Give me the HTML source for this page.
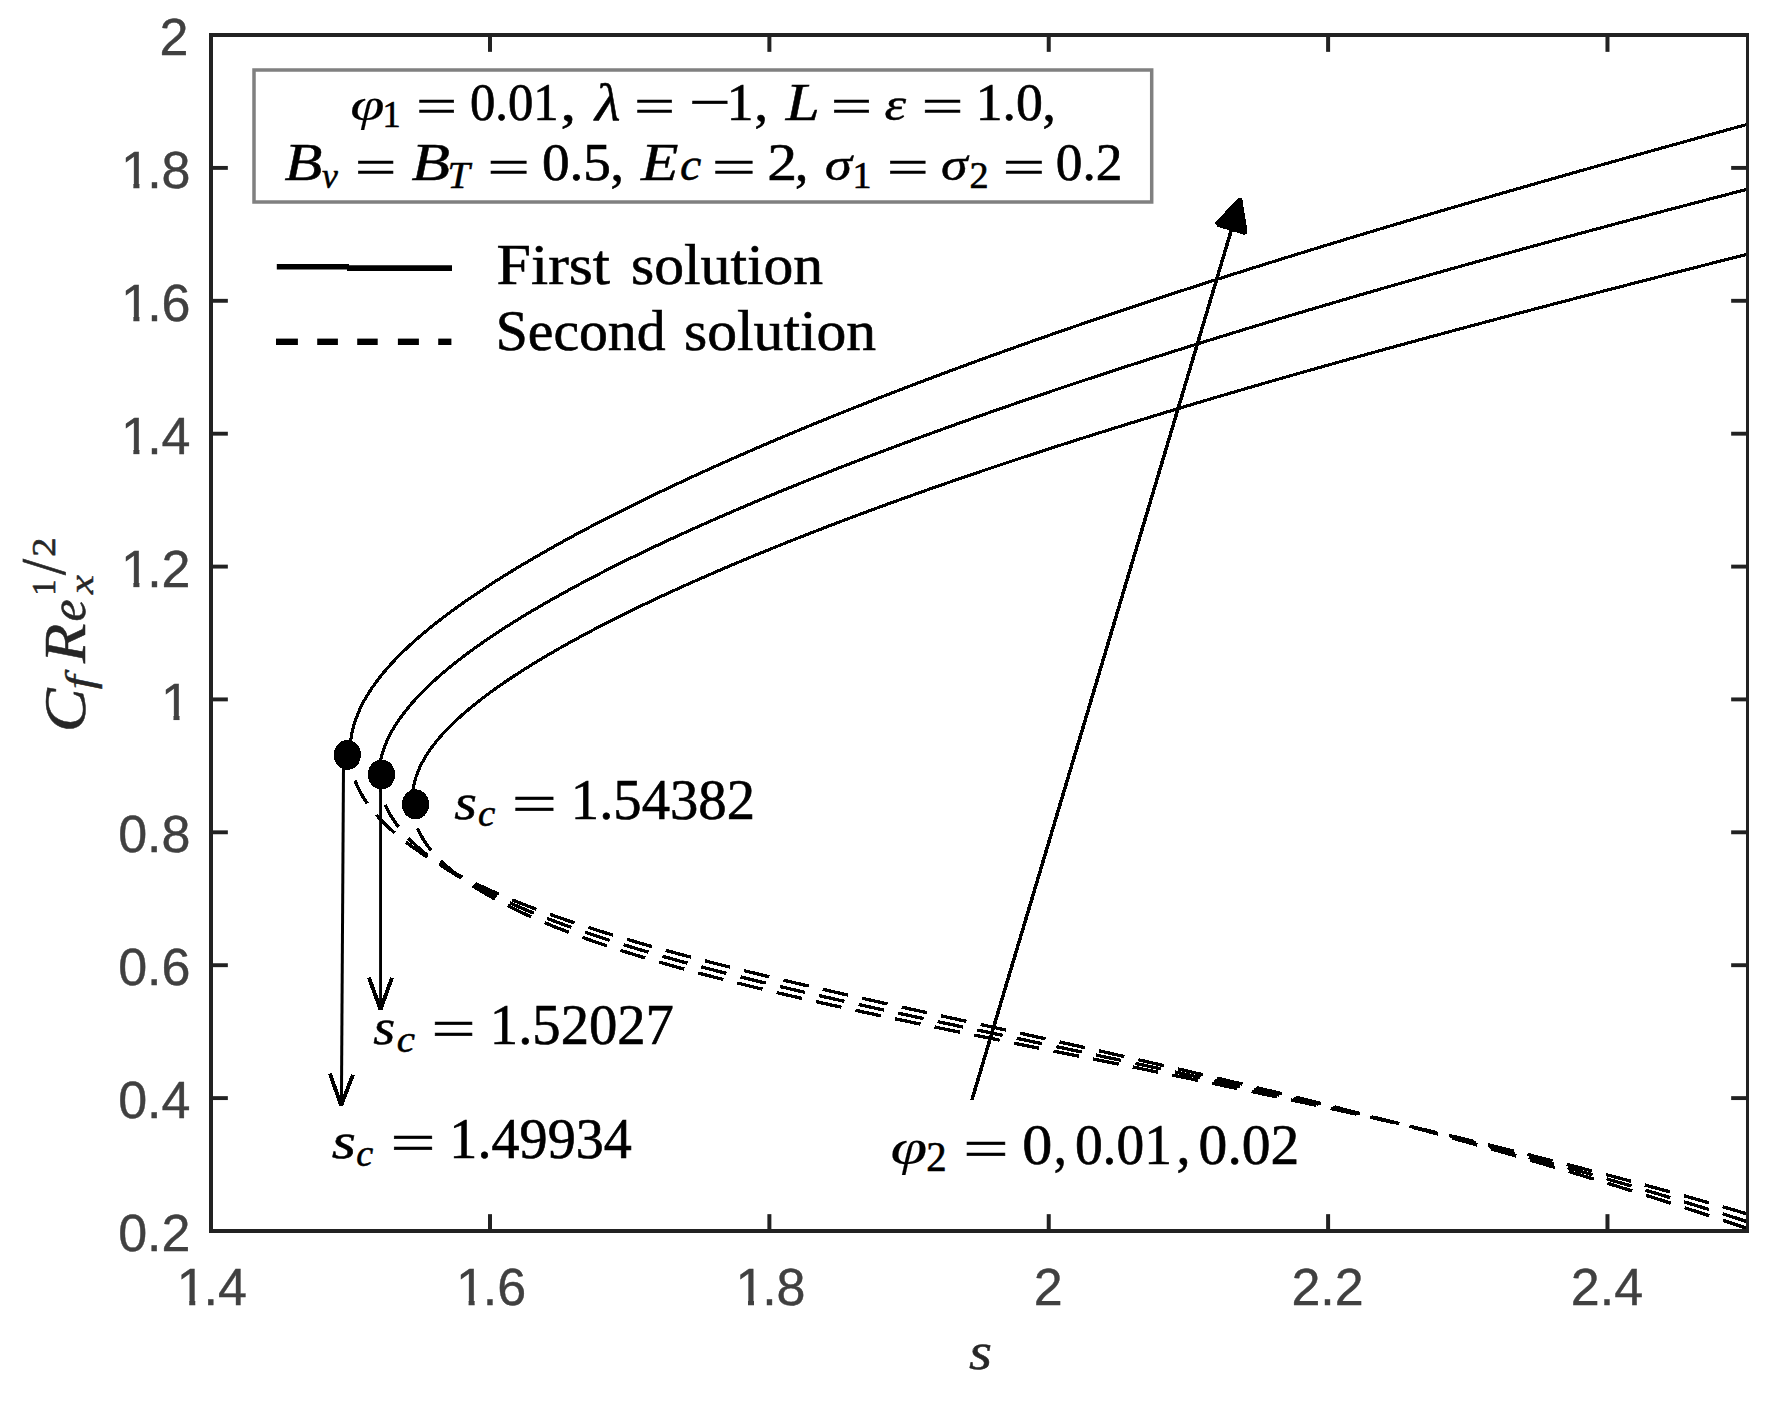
<!DOCTYPE html>
<html lang="en"><head><meta charset="utf-8"><title>Skin friction vs s</title>
<style>html,body{margin:0;padding:0;background:#fff}svg{display:block}text{white-space:pre}</style></head><body>
<svg width="1784" height="1402" viewBox="0 0 1784 1402">
<rect width="1784" height="1402" fill="#fff"/>
<g fill="none" stroke="#000" stroke-linejoin="round" shape-rendering="crispEdges">
<path d="M349.80,753.89 L349.82,751.82 L349.88,749.76 L349.99,747.70 L350.13,745.64 L350.32,743.59 L350.55,741.55 L350.82,739.51 L351.13,737.47 L351.49,735.43 L351.88,733.40 L352.32,731.38 L352.80,729.35 L353.32,727.33 L353.88,725.31 L354.49,723.30 L355.13,721.28 L355.82,719.27 L356.55,717.27 L357.32,715.26 L358.13,713.25 L358.99,711.25 L359.88,709.25 L360.82,707.25 L361.80,705.25 L362.82,703.25 L363.88,701.25 L364.98,699.25 L366.13,697.25 L367.32,695.25 L368.55,693.25 L369.82,691.25 L371.13,689.25 L372.48,687.24 L373.88,685.24 L375.31,683.23 L376.79,681.23 L378.31,679.22 L379.88,677.21 L381.48,675.19 L383.13,673.18 L384.81,671.16 L386.54,669.14 L388.31,667.11 L390.12,665.09 L391.98,663.06 L393.87,661.02 L395.81,658.99 L397.79,656.95 L399.81,654.90 L401.87,652.86 L403.98,650.81 L406.12,648.75 L408.31,646.69 L410.54,644.63 L412.81,642.56 L415.12,640.49 L417.47,638.42 L419.87,636.34 L422.30,634.25 L424.78,632.17 L427.30,630.07 L429.86,627.97 L432.47,625.87 L435.11,623.76 L437.80,621.65 L440.53,619.53 L443.30,617.41 L446.11,615.28 L448.96,613.15 L451.86,611.01 L454.80,608.86 L457.78,606.71 L460.80,604.56 L463.86,602.40 L466.96,600.23 L470.11,598.06 L473.29,595.89 L476.52,593.70 L479.79,591.52 L483.10,589.32 L486.46,587.12 L489.85,584.92 L493.29,582.71 L496.77,580.49 L500.29,578.27 L503.85,576.04 L507.45,573.81 L511.10,571.57 L514.78,569.33 L518.51,567.08 L522.28,564.82 L526.09,562.56 L529.95,560.29 L533.84,558.02 L537.78,555.74 L541.76,553.45 L545.78,551.16 L549.84,548.86 L553.94,546.56 L558.09,544.25 L562.27,541.94 L566.50,539.62 L570.77,537.29 L575.08,534.96 L579.43,532.63 L583.83,530.28 L588.27,527.93 L592.74,525.58 L597.26,523.22 L601.83,520.86 L606.43,518.49 L611.07,516.11 L615.76,513.73 L620.49,511.35 L625.26,508.95 L630.07,506.56 L634.92,504.15 L639.82,501.75 L644.75,499.33 L649.73,496.91 L654.75,494.49 L659.81,492.06 L664.92,489.63 L670.06,487.19 L675.25,484.75 L680.47,482.30 L685.74,479.85 L691.05,477.39 L696.41,474.92 L701.80,472.46 L707.24,469.98 L712.72,467.50 L718.24,465.02 L723.80,462.54 L729.40,460.04 L735.04,457.55 L740.73,455.05 L746.46,452.54 L752.23,450.03 L758.04,447.52 L763.89,445.00 L769.79,442.48 L775.72,439.95 L781.70,437.42 L787.72,434.89 L793.78,432.35 L799.88,429.81 L806.03,427.26 L812.21,424.71 L818.44,422.15 L824.71,419.60 L831.02,417.03 L837.38,414.47 L843.77,411.90 L850.21,409.33 L856.68,406.75 L863.20,404.17 L869.76,401.58 L876.37,399.00 L883.01,396.41 L889.70,393.81 L896.42,391.21 L903.19,388.61 L910.00,386.01 L916.86,383.40 L923.75,380.79 L930.69,378.18 L937.67,375.56 L944.68,372.94 L951.75,370.32 L958.85,367.69 L965.99,365.06 L973.18,362.43 L980.41,359.79 L987.67,357.16 L994.99,354.51 L1002.34,351.87 L1009.73,349.22 L1017.17,346.57 L1024.65,343.92 L1032.16,341.27 L1039.72,338.61 L1047.33,335.95 L1054.97,333.29 L1062.66,330.62 L1070.38,327.95 L1078.15,325.28 L1085.96,322.61 L1093.82,319.93 L1101.71,317.26 L1109.65,314.57 L1117.62,311.89 L1125.64,309.20 L1133.70,306.51 L1141.81,303.82 L1149.95,301.13 L1158.14,298.43 L1166.36,295.73 L1174.63,293.03 L1182.94,290.33 L1191.29,287.62 L1199.69,284.91 L1208.12,282.20 L1216.60,279.48 L1225.12,276.76 L1233.68,274.04 L1242.28,271.32 L1250.93,268.59 L1259.61,265.87 L1268.34,263.13 L1277.11,260.40 L1285.92,257.66 L1294.77,254.92 L1303.66,252.18 L1312.60,249.43 L1321.58,246.68 L1330.60,243.93 L1339.66,241.18 L1348.76,238.42 L1357.90,235.66 L1367.09,232.89 L1376.31,230.12 L1385.58,227.35 L1394.89,224.57 L1404.25,221.79 L1413.64,219.01 L1423.07,216.22 L1432.55,213.43 L1442.07,210.64 L1451.63,207.84 L1461.23,205.04 L1470.88,202.23 L1480.56,199.42 L1490.29,196.61 L1500.06,193.79 L1509.87,190.96 L1519.72,188.13 L1529.61,185.30 L1539.55,182.46 L1549.52,179.62 L1559.54,176.77 L1569.60,173.92 L1579.71,171.06 L1589.85,168.19 L1600.03,165.32 L1610.26,162.44 L1620.53,159.56 L1630.84,156.67 L1641.19,153.78 L1651.58,150.88 L1662.02,147.97 L1672.50,145.06 L1683.01,142.14 L1693.57,139.21 L1704.18,136.27 L1714.82,133.33 L1725.50,130.38 L1736.23,127.42 L1747.00,124.46" stroke-width="3.1"/>
<path class="dash0" d="M349.80,753.89 L349.82,755.56 L349.88,757.23 L349.99,758.91 L350.13,760.59 L350.32,762.27 L350.55,763.96 L350.82,765.66 L351.13,767.36 L351.49,769.06 L351.88,770.76 L352.32,772.47 L352.80,774.18 L353.32,775.89 L353.88,777.60 L354.49,779.32 L355.13,781.03 L355.82,782.75 L356.55,784.46 L357.32,786.18 L358.13,787.90 L358.99,789.62 L359.88,791.34 L360.82,793.05 L361.80,794.77 L362.82,796.49 L363.88,798.21 L364.98,799.92 L366.13,801.64 L367.32,803.35 L368.55,805.06 L369.82,806.77 L371.13,808.48 L372.48,810.19 L373.88,811.90 L375.31,813.61 L376.79,815.31 L378.31,817.01 L379.88,818.71 L381.48,820.41 L383.13,822.10 L384.81,823.79 L386.54,825.48 L388.31,827.17 L390.12,828.86 L391.98,830.54 L393.87,832.22 L395.81,833.89 L397.79,835.57 L399.81,837.24 L401.87,838.90 L403.98,840.57 L406.12,842.23 L408.31,843.88 L410.54,845.54 L412.81,847.19 L415.12,848.83 L417.47,850.47 L419.87,852.11 L422.30,853.75 L424.78,855.38 L427.30,857.01 L429.86,858.63 L432.47,860.25 L435.11,861.86 L437.80,863.47 L440.53,865.08 L443.30,866.68 L446.11,868.28 L448.96,869.87 L451.86,871.46 L454.80,873.05 L457.78,874.63 L460.80,876.20 L463.86,877.78 L466.96,879.35 L470.11,880.91 L473.29,882.47 L476.52,884.02 L479.79,885.57 L483.10,887.12 L486.46,888.66 L489.85,890.20 L493.29,891.73 L496.77,893.26 L500.29,894.79 L503.85,896.31 L507.45,897.83 L511.10,899.34 L514.78,900.85 L518.51,902.35 L522.28,903.85 L526.09,905.35 L529.95,906.84 L533.84,908.33 L537.78,909.81 L541.76,911.29 L545.78,912.77 L549.84,914.24 L553.94,915.71 L558.09,917.18 L562.27,918.64 L566.50,920.10 L570.77,921.56 L575.08,923.01 L579.43,924.46 L583.83,925.91 L588.27,927.35 L592.74,928.79 L597.26,930.23 L601.83,931.66 L606.43,933.10 L611.07,934.53 L615.76,935.95 L620.49,937.38 L625.26,938.80 L630.07,940.22 L634.92,941.64 L639.82,943.06 L644.75,944.48 L649.73,945.89 L654.75,947.30 L659.81,948.71 L664.92,950.12 L670.06,951.53 L675.25,952.94 L680.47,954.35 L685.74,955.76 L691.05,957.16 L696.41,958.57 L701.80,959.97 L707.24,961.38 L712.72,962.79 L718.24,964.19 L723.80,965.60 L729.40,967.00 L735.04,968.41 L740.73,969.82 L746.46,971.23 L752.23,972.64 L758.04,974.06 L763.89,975.47 L769.79,976.89 L775.72,978.31 L781.70,979.73 L787.72,981.15 L793.78,982.58 L799.88,984.00 L806.03,985.44 L812.21,986.87 L818.44,988.31 L824.71,989.75 L831.02,991.20 L837.38,992.65 L843.77,994.10 L850.21,995.56 L856.68,997.02 L863.20,998.49 L869.76,999.97 L876.37,1001.45 L883.01,1002.93 L889.70,1004.42 L896.42,1005.92 L903.19,1007.42 L910.00,1008.93 L916.86,1010.45 L923.75,1011.97 L930.69,1013.51 L937.67,1015.05 L944.68,1016.59 L951.75,1018.15 L958.85,1019.71 L965.99,1021.29 L973.18,1022.87 L980.41,1024.46 L987.67,1026.06 L994.99,1027.67 L1002.34,1029.29 L1009.73,1030.92 L1017.17,1032.56 L1024.65,1034.21 L1032.16,1035.88 L1039.72,1037.55 L1047.33,1039.24 L1054.97,1040.94 L1062.66,1042.65 L1070.38,1044.38 L1078.15,1046.11 L1085.96,1047.86 L1093.82,1049.63 L1101.71,1051.41 L1109.65,1053.20 L1117.62,1055.01 L1125.64,1056.83 L1133.70,1058.67 L1141.81,1060.52 L1149.95,1062.39 L1158.14,1064.28 L1166.36,1066.18 L1174.63,1068.10 L1182.94,1070.03 L1191.29,1071.99 L1199.69,1073.96 L1208.12,1075.95 L1216.60,1077.96 L1225.12,1079.98 L1233.68,1082.03 L1242.28,1084.10 L1250.93,1086.18 L1259.61,1088.29 L1268.34,1090.42 L1277.11,1092.57 L1285.92,1094.74 L1294.77,1096.93 L1303.66,1099.15 L1312.60,1101.38 L1321.58,1103.65 L1330.60,1105.93 L1339.66,1108.24 L1348.76,1110.57 L1357.90,1112.93 L1367.09,1115.31 L1376.31,1117.71 L1385.58,1120.15 L1394.89,1122.61 L1404.25,1125.09 L1413.64,1127.60 L1423.07,1130.14 L1432.55,1132.71 L1442.07,1135.31 L1451.63,1137.93 L1461.23,1140.58 L1470.88,1143.26 L1480.56,1145.98 L1490.29,1148.72 L1500.06,1151.49 L1509.87,1154.30 L1519.72,1157.13 L1529.61,1160.00 L1539.55,1162.90 L1549.52,1165.84 L1559.54,1168.80 L1569.60,1171.80 L1579.71,1174.84 L1589.85,1177.91 L1600.03,1181.01 L1610.26,1184.15 L1620.53,1187.33 L1630.84,1190.54 L1641.19,1193.79 L1651.58,1197.07 L1662.02,1200.40 L1672.50,1203.76 L1683.01,1207.16 L1693.57,1210.60 L1704.18,1214.08 L1714.82,1217.60 L1725.50,1221.16 L1736.23,1224.77 L1747.00,1228.41" stroke-width="3.3" stroke-dasharray="26 14.43" stroke-dashoffset="13.01"/>
<path d="M379.00,776.41 L379.02,774.60 L379.08,772.80 L379.18,771.00 L379.33,769.20 L379.51,767.41 L379.73,765.62 L380.00,763.83 L380.31,762.04 L380.65,760.25 L381.04,758.47 L381.47,756.68 L381.94,754.90 L382.45,753.11 L383.00,751.32 L383.59,749.53 L384.22,747.74 L384.89,745.94 L385.61,744.14 L386.36,742.34 L387.16,740.53 L387.99,738.72 L388.87,736.91 L389.79,735.09 L390.75,733.27 L391.75,731.44 L392.79,729.61 L393.87,727.78 L394.99,725.94 L396.15,724.10 L397.35,722.25 L398.60,720.40 L399.88,718.55 L401.21,716.69 L402.57,714.83 L403.98,712.97 L405.43,711.10 L406.92,709.23 L408.45,707.35 L410.02,705.47 L411.63,703.59 L413.28,701.70 L414.97,699.81 L416.71,697.91 L418.48,696.02 L420.30,694.11 L422.15,692.21 L424.05,690.30 L425.99,688.38 L427.96,686.46 L429.98,684.54 L432.04,682.61 L434.14,680.68 L436.28,678.75 L438.47,676.81 L440.69,674.86 L442.95,672.91 L445.26,670.96 L447.60,669.00 L449.99,667.04 L452.42,665.07 L454.88,663.10 L457.39,661.13 L459.94,659.15 L462.53,657.16 L465.16,655.17 L467.83,653.18 L470.55,651.18 L473.30,649.17 L476.09,647.17 L478.93,645.15 L481.80,643.13 L484.72,641.11 L487.68,639.08 L490.67,637.05 L493.71,635.01 L496.79,632.97 L499.91,630.92 L503.07,628.87 L506.27,626.81 L509.52,624.75 L512.80,622.68 L516.12,620.61 L519.49,618.53 L522.89,616.45 L526.34,614.37 L529.83,612.27 L533.36,610.18 L536.93,608.07 L540.53,605.97 L544.19,603.85 L547.88,601.74 L551.61,599.62 L555.38,597.49 L559.19,595.36 L563.05,593.22 L566.94,591.08 L570.88,588.93 L574.86,586.78 L578.87,584.62 L582.93,582.46 L587.03,580.29 L591.17,578.12 L595.35,575.94 L599.57,573.76 L603.84,571.58 L608.14,569.38 L612.48,567.19 L616.87,564.99 L621.29,562.78 L625.76,560.57 L630.27,558.35 L634.81,556.13 L639.40,553.91 L644.03,551.68 L648.70,549.44 L653.41,547.21 L658.16,544.96 L662.96,542.71 L667.79,540.46 L672.66,538.20 L677.58,535.94 L682.53,533.67 L687.53,531.40 L692.57,529.12 L697.64,526.84 L702.76,524.56 L707.92,522.27 L713.12,519.97 L718.36,517.67 L723.65,515.37 L728.97,513.06 L734.33,510.75 L739.74,508.43 L745.18,506.11 L750.67,503.79 L756.19,501.46 L761.76,499.13 L767.37,496.79 L773.02,494.45 L778.71,492.10 L784.44,489.75 L790.21,487.40 L796.02,485.04 L801.87,482.68 L807.77,480.31 L813.70,477.94 L819.68,475.57 L825.69,473.19 L831.75,470.81 L837.85,468.42 L843.99,466.03 L850.17,463.64 L856.39,461.24 L862.65,458.84 L868.95,456.43 L875.29,454.03 L881.67,451.61 L888.10,449.20 L894.56,446.78 L901.07,444.35 L907.61,441.93 L914.20,439.50 L920.83,437.06 L927.50,434.63 L934.21,432.19 L940.96,429.74 L947.75,427.29 L954.58,424.84 L961.45,422.39 L968.37,419.93 L975.32,417.47 L982.31,415.01 L989.35,412.54 L996.43,410.07 L1003.54,407.59 L1010.70,405.12 L1017.90,402.64 L1025.14,400.15 L1032.42,397.67 L1039.74,395.18 L1047.10,392.68 L1054.51,390.19 L1061.95,387.69 L1069.43,385.19 L1076.96,382.68 L1084.53,380.18 L1092.13,377.67 L1099.78,375.15 L1107.47,372.63 L1115.20,370.12 L1122.97,367.59 L1130.78,365.07 L1138.63,362.54 L1146.52,360.01 L1154.45,357.47 L1162.43,354.94 L1170.44,352.40 L1178.50,349.86 L1186.59,347.31 L1194.73,344.76 L1202.91,342.21 L1211.13,339.66 L1219.39,337.10 L1227.69,334.54 L1236.03,331.98 L1244.41,329.42 L1252.83,326.85 L1261.29,324.28 L1269.80,321.71 L1278.34,319.13 L1286.93,316.56 L1295.55,313.97 L1304.22,311.39 L1312.93,308.80 L1321.68,306.22 L1330.47,303.62 L1339.30,301.03 L1348.17,298.43 L1357.08,295.83 L1366.03,293.23 L1375.03,290.62 L1384.06,288.02 L1393.14,285.41 L1402.25,282.79 L1411.41,280.18 L1420.61,277.56 L1429.84,274.93 L1439.12,272.31 L1448.44,269.68 L1457.80,267.05 L1467.20,264.42 L1476.65,261.78 L1486.13,259.14 L1495.65,256.50 L1505.22,253.85 L1514.82,251.20 L1524.47,248.55 L1534.16,245.90 L1543.88,243.24 L1553.65,240.58 L1563.46,237.91 L1573.31,235.24 L1583.20,232.57 L1593.13,229.90 L1603.11,227.22 L1613.12,224.54 L1623.17,221.86 L1633.27,219.17 L1643.40,216.48 L1653.58,213.78 L1663.80,211.08 L1674.05,208.38 L1684.35,205.68 L1694.69,202.97 L1705.07,200.25 L1715.49,197.54 L1725.95,194.81 L1736.46,192.09 L1747.00,189.36" stroke-width="3.1"/>
<path class="dash1" d="M379.00,776.41 L379.02,778.07 L379.08,779.73 L379.18,781.38 L379.33,783.02 L379.51,784.67 L379.73,786.31 L380.00,787.94 L380.31,789.58 L380.65,791.21 L381.04,792.84 L381.47,794.46 L381.94,796.09 L382.45,797.71 L383.00,799.34 L383.59,800.96 L384.22,802.58 L384.89,804.20 L385.61,805.82 L386.36,807.44 L387.16,809.07 L387.99,810.69 L388.87,812.31 L389.79,813.93 L390.75,815.55 L391.75,817.18 L392.79,818.80 L393.87,820.42 L394.99,822.04 L396.15,823.66 L397.35,825.27 L398.60,826.89 L399.88,828.50 L401.21,830.12 L402.57,831.73 L403.98,833.34 L405.43,834.95 L406.92,836.55 L408.45,838.15 L410.02,839.76 L411.63,841.35 L413.28,842.95 L414.97,844.54 L416.71,846.13 L418.48,847.72 L420.30,849.31 L422.15,850.89 L424.05,852.47 L425.99,854.04 L427.96,855.62 L429.98,857.19 L432.04,858.75 L434.14,860.32 L436.28,861.88 L438.47,863.44 L440.69,864.99 L442.95,866.54 L445.26,868.09 L447.60,869.63 L449.99,871.18 L452.42,872.71 L454.88,874.25 L457.39,875.78 L459.94,877.31 L462.53,878.83 L465.16,880.35 L467.83,881.87 L470.55,883.39 L473.30,884.90 L476.09,886.40 L478.93,887.91 L481.80,889.41 L484.72,890.91 L487.68,892.40 L490.67,893.89 L493.71,895.38 L496.79,896.86 L499.91,898.34 L503.07,899.82 L506.27,901.29 L509.52,902.76 L512.80,904.23 L516.12,905.69 L519.49,907.15 L522.89,908.60 L526.34,910.06 L529.83,911.51 L533.36,912.95 L536.93,914.40 L540.53,915.84 L544.19,917.27 L547.88,918.70 L551.61,920.13 L555.38,921.56 L559.19,922.99 L563.05,924.41 L566.94,925.82 L570.88,927.24 L574.86,928.65 L578.87,930.06 L582.93,931.47 L587.03,932.87 L591.17,934.27 L595.35,935.67 L599.57,937.06 L603.84,938.46 L608.14,939.85 L612.48,941.23 L616.87,942.62 L621.29,944.00 L625.76,945.38 L630.27,946.76 L634.81,948.14 L639.40,949.51 L644.03,950.89 L648.70,952.26 L653.41,953.63 L658.16,954.99 L662.96,956.36 L667.79,957.72 L672.66,959.08 L677.58,960.45 L682.53,961.81 L687.53,963.17 L692.57,964.52 L697.64,965.88 L702.76,967.24 L707.92,968.59 L713.12,969.95 L718.36,971.30 L723.65,972.65 L728.97,974.01 L734.33,975.36 L739.74,976.71 L745.18,978.07 L750.67,979.42 L756.19,980.77 L761.76,982.13 L767.37,983.48 L773.02,984.84 L778.71,986.20 L784.44,987.55 L790.21,988.91 L796.02,990.27 L801.87,991.63 L807.77,993.00 L813.70,994.36 L819.68,995.73 L825.69,997.10 L831.75,998.47 L837.85,999.84 L843.99,1001.22 L850.17,1002.60 L856.39,1003.98 L862.65,1005.37 L868.95,1006.76 L875.29,1008.15 L881.67,1009.54 L888.10,1010.94 L894.56,1012.35 L901.07,1013.76 L907.61,1015.17 L914.20,1016.59 L920.83,1018.01 L927.50,1019.44 L934.21,1020.87 L940.96,1022.31 L947.75,1023.75 L954.58,1025.20 L961.45,1026.66 L968.37,1028.12 L975.32,1029.59 L982.31,1031.07 L989.35,1032.55 L996.43,1034.04 L1003.54,1035.54 L1010.70,1037.05 L1017.90,1038.56 L1025.14,1040.09 L1032.42,1041.62 L1039.74,1043.16 L1047.10,1044.71 L1054.51,1046.27 L1061.95,1047.84 L1069.43,1049.41 L1076.96,1051.00 L1084.53,1052.60 L1092.13,1054.21 L1099.78,1055.84 L1107.47,1057.47 L1115.20,1059.11 L1122.97,1060.77 L1130.78,1062.44 L1138.63,1064.12 L1146.52,1065.82 L1154.45,1067.52 L1162.43,1069.25 L1170.44,1070.98 L1178.50,1072.73 L1186.59,1074.50 L1194.73,1076.27 L1202.91,1078.07 L1211.13,1079.88 L1219.39,1081.70 L1227.69,1083.55 L1236.03,1085.40 L1244.41,1087.28 L1252.83,1089.17 L1261.29,1091.08 L1269.80,1093.01 L1278.34,1094.96 L1286.93,1096.92 L1295.55,1098.91 L1304.22,1100.91 L1312.93,1102.93 L1321.68,1104.98 L1330.47,1107.04 L1339.30,1109.13 L1348.17,1111.24 L1357.08,1113.36 L1366.03,1115.52 L1375.03,1117.69 L1384.06,1119.89 L1393.14,1122.11 L1402.25,1124.35 L1411.41,1126.62 L1420.61,1128.91 L1429.84,1131.23 L1439.12,1133.58 L1448.44,1135.95 L1457.80,1138.35 L1467.20,1140.77 L1476.65,1143.22 L1486.13,1145.70 L1495.65,1148.21 L1505.22,1150.75 L1514.82,1153.31 L1524.47,1155.91 L1534.16,1158.54 L1543.88,1161.19 L1553.65,1163.88 L1563.46,1166.60 L1573.31,1169.35 L1583.20,1172.14 L1593.13,1174.96 L1603.11,1177.81 L1613.12,1180.70 L1623.17,1183.62 L1633.27,1186.57 L1643.40,1189.57 L1653.58,1192.59 L1663.80,1195.66 L1674.05,1198.76 L1684.35,1201.91 L1694.69,1205.09 L1705.07,1208.30 L1715.49,1211.56 L1725.95,1214.86 L1736.46,1218.20 L1747.00,1221.58" stroke-width="3.3" stroke-dasharray="26 14.43" stroke-dashoffset="11.04"/>
<path d="M411.90,801.78 L411.92,800.11 L411.98,798.43 L412.08,796.75 L412.22,795.05 L412.40,793.34 L412.62,791.63 L412.88,789.90 L413.17,788.18 L413.51,786.44 L413.89,784.70 L414.31,782.96 L414.77,781.21 L415.26,779.47 L415.80,777.72 L416.38,775.98 L417.00,774.23 L417.65,772.49 L418.35,770.75 L419.08,769.02 L419.86,767.28 L420.68,765.55 L421.53,763.83 L422.43,762.10 L423.36,760.38 L424.34,758.66 L425.35,756.95 L426.41,755.23 L427.50,753.52 L428.64,751.81 L429.81,750.09 L431.03,748.38 L432.28,746.67 L433.57,744.95 L434.91,743.24 L436.28,741.52 L437.69,739.80 L439.15,738.08 L440.64,736.36 L442.17,734.63 L443.74,732.90 L445.36,731.17 L447.01,729.43 L448.70,727.69 L450.43,725.95 L452.20,724.20 L454.01,722.45 L455.87,720.69 L457.76,718.93 L459.69,717.17 L461.66,715.40 L463.67,713.63 L465.72,711.85 L467.81,710.07 L469.94,708.28 L472.11,706.49 L474.32,704.69 L476.56,702.89 L478.85,701.09 L481.18,699.28 L483.55,697.46 L485.96,695.65 L488.41,693.82 L490.89,691.99 L493.42,690.16 L495.99,688.32 L498.60,686.47 L501.24,684.63 L503.93,682.77 L506.66,680.91 L509.42,679.05 L512.23,677.18 L515.08,675.31 L517.96,673.43 L520.89,671.54 L523.85,669.65 L526.86,667.76 L529.90,665.86 L532.99,663.95 L536.11,662.04 L539.28,660.13 L542.48,658.21 L545.73,656.28 L549.01,654.35 L552.33,652.42 L555.70,650.48 L559.10,648.53 L562.54,646.58 L566.03,644.63 L569.55,642.66 L573.11,640.70 L576.72,638.73 L580.36,636.75 L584.04,634.77 L587.76,632.79 L591.52,630.79 L595.32,628.80 L599.17,626.80 L603.05,624.79 L606.97,622.78 L610.93,620.77 L614.93,618.74 L618.97,616.72 L623.05,614.69 L627.17,612.65 L631.33,610.61 L635.53,608.57 L639.77,606.52 L644.05,604.47 L648.37,602.41 L652.72,600.34 L657.12,598.28 L661.56,596.20 L666.04,594.13 L670.56,592.05 L675.11,589.96 L679.71,587.87 L684.35,585.77 L689.03,583.68 L693.74,581.57 L698.50,579.46 L703.30,577.35 L708.13,575.23 L713.01,573.11 L717.93,570.99 L722.88,568.86 L727.88,566.73 L732.91,564.59 L737.99,562.45 L743.10,560.30 L748.26,558.15 L753.45,556.00 L758.69,553.84 L763.96,551.68 L769.27,549.52 L774.63,547.35 L780.02,545.18 L785.46,543.00 L790.93,540.82 L796.44,538.64 L801.99,536.45 L807.59,534.26 L813.22,532.06 L818.89,529.87 L824.60,527.67 L830.36,525.46 L836.15,523.25 L841.98,521.04 L847.85,518.83 L853.76,516.61 L859.71,514.39 L865.70,512.16 L871.73,509.93 L877.80,507.70 L883.91,505.47 L890.06,503.23 L896.25,500.99 L902.48,498.75 L908.75,496.50 L915.06,494.25 L921.41,492.00 L927.80,489.74 L934.23,487.49 L940.70,485.23 L947.21,482.96 L953.75,480.69 L960.34,478.43 L966.97,476.15 L973.64,473.88 L980.34,471.60 L987.09,469.32 L993.88,467.04 L1000.70,464.75 L1007.57,462.46 L1014.48,460.17 L1021.42,457.88 L1028.41,455.58 L1035.43,453.28 L1042.50,450.98 L1049.61,448.68 L1056.75,446.37 L1063.94,444.06 L1071.16,441.75 L1078.43,439.43 L1085.73,437.12 L1093.07,434.80 L1100.46,432.47 L1107.88,430.15 L1115.34,427.82 L1122.85,425.49 L1130.39,423.16 L1137.97,420.83 L1145.60,418.49 L1153.26,416.15 L1160.96,413.81 L1168.70,411.46 L1176.49,409.12 L1184.31,406.77 L1192.17,404.41 L1200.07,402.06 L1208.01,399.70 L1215.99,397.34 L1224.01,394.98 L1232.07,392.61 L1240.18,390.24 L1248.32,387.87 L1256.50,385.50 L1264.72,383.12 L1272.97,380.74 L1281.27,378.36 L1289.61,375.98 L1297.99,373.59 L1306.41,371.20 L1314.87,368.81 L1323.37,366.41 L1331.91,364.01 L1340.49,361.61 L1349.10,359.20 L1357.76,356.79 L1366.46,354.38 L1375.20,351.96 L1383.97,349.54 L1392.79,347.12 L1401.65,344.69 L1410.54,342.26 L1419.48,339.83 L1428.46,337.39 L1437.47,334.95 L1446.53,332.51 L1455.62,330.06 L1464.76,327.61 L1473.93,325.15 L1483.15,322.69 L1492.40,320.23 L1501.70,317.76 L1511.03,315.28 L1520.41,312.81 L1529.82,310.32 L1539.27,307.84 L1548.77,305.34 L1558.30,302.85 L1567.87,300.35 L1577.49,297.84 L1587.14,295.33 L1596.83,292.81 L1606.57,290.29 L1616.34,287.76 L1626.15,285.23 L1636.00,282.69 L1645.89,280.14 L1655.83,277.59 L1665.80,275.03 L1675.81,272.47 L1685.86,269.90 L1695.95,267.32 L1706.08,264.74 L1716.25,262.15 L1726.46,259.55 L1736.71,256.95 L1747.00,254.34" stroke-width="3.1"/>
<path class="dash2" d="M411.90,801.78 L411.92,803.29 L411.98,804.82 L412.08,806.36 L412.22,807.91 L412.40,809.47 L412.62,811.04 L412.88,812.62 L413.17,814.20 L413.51,815.79 L413.89,817.38 L414.31,818.98 L414.77,820.57 L415.26,822.17 L415.80,823.76 L416.38,825.35 L417.00,826.94 L417.65,828.53 L418.35,830.11 L419.08,831.68 L419.86,833.25 L420.68,834.81 L421.53,836.37 L422.43,837.92 L423.36,839.47 L424.34,841.00 L425.35,842.54 L426.41,844.06 L427.50,845.58 L428.64,847.10 L429.81,848.61 L431.03,850.12 L432.28,851.62 L433.57,853.12 L434.91,854.62 L436.28,856.11 L437.69,857.60 L439.15,859.08 L440.64,860.57 L442.17,862.04 L443.74,863.52 L445.36,865.00 L447.01,866.47 L448.70,867.94 L450.43,869.40 L452.20,870.87 L454.01,872.33 L455.87,873.79 L457.76,875.24 L459.69,876.70 L461.66,878.15 L463.67,879.60 L465.72,881.05 L467.81,882.49 L469.94,883.93 L472.11,885.37 L474.32,886.80 L476.56,888.24 L478.85,889.67 L481.18,891.10 L483.55,892.52 L485.96,893.94 L488.41,895.36 L490.89,896.78 L493.42,898.19 L495.99,899.60 L498.60,901.01 L501.24,902.42 L503.93,903.82 L506.66,905.22 L509.42,906.61 L512.23,908.01 L515.08,909.40 L517.96,910.78 L520.89,912.17 L523.85,913.55 L526.86,914.93 L529.90,916.31 L532.99,917.68 L536.11,919.05 L539.28,920.42 L542.48,921.78 L545.73,923.14 L549.01,924.50 L552.33,925.86 L555.70,927.21 L559.10,928.56 L562.54,929.91 L566.03,931.25 L569.55,932.59 L573.11,933.93 L576.72,935.27 L580.36,936.60 L584.04,937.93 L587.76,939.26 L591.52,940.58 L595.32,941.91 L599.17,943.23 L603.05,944.55 L606.97,945.86 L610.93,947.17 L614.93,948.48 L618.97,949.79 L623.05,951.10 L627.17,952.40 L631.33,953.70 L635.53,955.00 L639.77,956.30 L644.05,957.60 L648.37,958.89 L652.72,960.18 L657.12,961.47 L661.56,962.76 L666.04,964.04 L670.56,965.33 L675.11,966.61 L679.71,967.89 L684.35,969.17 L689.03,970.45 L693.74,971.73 L698.50,973.01 L703.30,974.28 L708.13,975.56 L713.01,976.83 L717.93,978.10 L722.88,979.37 L727.88,980.64 L732.91,981.91 L737.99,983.18 L743.10,984.45 L748.26,985.72 L753.45,986.99 L758.69,988.26 L763.96,989.53 L769.27,990.80 L774.63,992.07 L780.02,993.34 L785.46,994.61 L790.93,995.88 L796.44,997.15 L801.99,998.42 L807.59,999.70 L813.22,1000.97 L818.89,1002.25 L824.60,1003.52 L830.36,1004.80 L836.15,1006.08 L841.98,1007.36 L847.85,1008.65 L853.76,1009.93 L859.71,1011.22 L865.70,1012.51 L871.73,1013.80 L877.80,1015.10 L883.91,1016.40 L890.06,1017.70 L896.25,1019.00 L902.48,1020.31 L908.75,1021.62 L915.06,1022.94 L921.41,1024.26 L927.80,1025.58 L934.23,1026.91 L940.70,1028.24 L947.21,1029.58 L953.75,1030.92 L960.34,1032.26 L966.97,1033.61 L973.64,1034.97 L980.34,1036.33 L987.09,1037.70 L993.88,1039.07 L1000.70,1040.45 L1007.57,1041.83 L1014.48,1043.22 L1021.42,1044.62 L1028.41,1046.03 L1035.43,1047.44 L1042.50,1048.86 L1049.61,1050.29 L1056.75,1051.72 L1063.94,1053.16 L1071.16,1054.62 L1078.43,1056.07 L1085.73,1057.54 L1093.07,1059.02 L1100.46,1060.51 L1107.88,1062.00 L1115.34,1063.51 L1122.85,1065.02 L1130.39,1066.55 L1137.97,1068.08 L1145.60,1069.63 L1153.26,1071.19 L1160.96,1072.76 L1168.70,1074.34 L1176.49,1075.93 L1184.31,1077.53 L1192.17,1079.15 L1200.07,1080.78 L1208.01,1082.42 L1215.99,1084.08 L1224.01,1085.74 L1232.07,1087.43 L1240.18,1089.12 L1248.32,1090.83 L1256.50,1092.56 L1264.72,1094.30 L1272.97,1096.05 L1281.27,1097.82 L1289.61,1099.61 L1297.99,1101.41 L1306.41,1103.23 L1314.87,1105.06 L1323.37,1106.92 L1331.91,1108.79 L1340.49,1110.67 L1349.10,1112.58 L1357.76,1114.50 L1366.46,1116.45 L1375.20,1118.41 L1383.97,1120.39 L1392.79,1122.39 L1401.65,1124.41 L1410.54,1126.45 L1419.48,1128.52 L1428.46,1130.60 L1437.47,1132.71 L1446.53,1134.83 L1455.62,1136.98 L1464.76,1139.16 L1473.93,1141.35 L1483.15,1143.57 L1492.40,1145.81 L1501.70,1148.08 L1511.03,1150.37 L1520.41,1152.69 L1529.82,1155.03 L1539.27,1157.40 L1548.77,1159.79 L1558.30,1162.21 L1567.87,1164.66 L1577.49,1167.14 L1587.14,1169.64 L1596.83,1172.17 L1606.57,1174.73 L1616.34,1177.32 L1626.15,1179.94 L1636.00,1182.59 L1645.89,1185.27 L1655.83,1187.98 L1665.80,1190.72 L1675.81,1193.49 L1685.86,1196.30 L1695.95,1199.13 L1706.08,1202.01 L1716.25,1204.91 L1726.46,1207.85 L1736.71,1210.82 L1747.00,1213.83" stroke-width="3.3" stroke-dasharray="26 14.43" stroke-dashoffset="13.18"/>
</g>
<g stroke="#222222" fill="none" stroke-linecap="butt">
<line x1="211.0" y1="33.0" x2="211.0" y2="1233.0" stroke-width="4"/>
<line x1="1747.5" y1="33.0" x2="1747.5" y2="1233.0" stroke-width="3"/>
<line x1="209.0" y1="35.0" x2="1749.0" y2="35.0" stroke-width="4"/>
<line x1="209.0" y1="1231.0" x2="1749.0" y2="1231.0" stroke-width="4"/>
<line x1="490.01" y1="1229.0" x2="490.01" y2="1214.15" stroke-width="4"/>
<line x1="490.01" y1="37.0" x2="490.01" y2="51.85" stroke-width="4"/>
<line x1="769.38" y1="1229.0" x2="769.38" y2="1214.15" stroke-width="4"/>
<line x1="769.38" y1="37.0" x2="769.38" y2="51.85" stroke-width="4"/>
<line x1="1048.74" y1="1229.0" x2="1048.74" y2="1214.15" stroke-width="4"/>
<line x1="1048.74" y1="37.0" x2="1048.74" y2="51.85" stroke-width="4"/>
<line x1="1328.10" y1="1229.0" x2="1328.10" y2="1214.15" stroke-width="4"/>
<line x1="1328.10" y1="37.0" x2="1328.10" y2="51.85" stroke-width="4"/>
<line x1="1607.47" y1="1229.0" x2="1607.47" y2="1214.15" stroke-width="4"/>
<line x1="1607.47" y1="37.0" x2="1607.47" y2="51.85" stroke-width="4"/>
<line x1="213.0" y1="1098.1" x2="227.85" y2="1098.1" stroke-width="3.9"/>
<line x1="1746.0" y1="1098.1" x2="1731.15" y2="1098.1" stroke-width="3.9"/>
<line x1="213.0" y1="965.2" x2="227.85" y2="965.2" stroke-width="3.9"/>
<line x1="1746.0" y1="965.2" x2="1731.15" y2="965.2" stroke-width="3.9"/>
<line x1="213.0" y1="832.3" x2="227.85" y2="832.3" stroke-width="3.9"/>
<line x1="1746.0" y1="832.3" x2="1731.15" y2="832.3" stroke-width="3.9"/>
<line x1="213.0" y1="699.4" x2="227.85" y2="699.4" stroke-width="3.9"/>
<line x1="1746.0" y1="699.4" x2="1731.15" y2="699.4" stroke-width="3.9"/>
<line x1="213.0" y1="566.6" x2="227.85" y2="566.6" stroke-width="3.9"/>
<line x1="1746.0" y1="566.6" x2="1731.15" y2="566.6" stroke-width="3.9"/>
<line x1="213.0" y1="433.7" x2="227.85" y2="433.7" stroke-width="3.9"/>
<line x1="1746.0" y1="433.7" x2="1731.15" y2="433.7" stroke-width="3.9"/>
<line x1="213.0" y1="300.8" x2="227.85" y2="300.8" stroke-width="3.9"/>
<line x1="1746.0" y1="300.8" x2="1731.15" y2="300.8" stroke-width="3.9"/>
<line x1="213.0" y1="167.9" x2="227.85" y2="167.9" stroke-width="3.9"/>
<line x1="1746.0" y1="167.9" x2="1731.15" y2="167.9" stroke-width="3.9"/>
</g>
<defs><clipPath id="one"><rect x="-2" y="-45" width="40" height="40.6"/><rect x="12.5" y="-6" width="6" height="7"/></clipPath></defs>
<g font-family='"Liberation Sans", sans-serif' font-size="52" fill="#404040" stroke="#404040" stroke-width="0.4">
<g transform="translate(176.75,1305.00)" clip-path="url(#one)"><text x="0" y="0">1</text></g>
<text x="203.45" y="1305">.4</text>
<g transform="translate(456.11,1305.00)" clip-path="url(#one)"><text x="0" y="0">1</text></g>
<text x="482.81" y="1305">.6</text>
<g transform="translate(735.48,1305.00)" clip-path="url(#one)"><text x="0" y="0">1</text></g>
<text x="762.18" y="1305">.8</text>
<text x="1048.24" y="1305" text-anchor="middle">2</text>
<text x="1327.60" y="1305" text-anchor="middle">2.2</text>
<text x="1606.97" y="1305" text-anchor="middle">2.4</text>
<text x="190.5" y="1251.10" text-anchor="end">0.2</text>
<text x="190.5" y="1118.21" text-anchor="end">0.4</text>
<text x="190.5" y="985.32" text-anchor="end">0.6</text>
<text x="190.5" y="852.43" text-anchor="end">0.8</text>
<g transform="translate(161.00,719.54)" clip-path="url(#one)"><text x="0" y="0">1</text></g>
<g transform="translate(120.90,586.66)" clip-path="url(#one)"><text x="0" y="0">1</text></g>
<text x="190.5" y="586.66" text-anchor="end">.2</text>
<g transform="translate(120.90,453.77)" clip-path="url(#one)"><text x="0" y="0">1</text></g>
<text x="190.5" y="453.77" text-anchor="end">.4</text>
<g transform="translate(120.90,320.88)" clip-path="url(#one)"><text x="0" y="0">1</text></g>
<text x="190.5" y="320.88" text-anchor="end">.6</text>
<g transform="translate(120.90,187.99)" clip-path="url(#one)"><text x="0" y="0">1</text></g>
<text x="190.5" y="187.99" text-anchor="end">.8</text>
<text x="188.5" y="55.10" text-anchor="end">2</text>
</g>
<rect x="254" y="70" width="897.7" height="132" fill="#fff" stroke="#808080" stroke-width="3.5"/>
<g stroke="#000" fill="none">
<line x1="276.8" y1="266.8" x2="349" y2="266.8" stroke-width="5.6"/>
<line x1="347" y1="268.1" x2="452" y2="268.1" stroke-width="5.6"/>
<line x1="276" y1="341.8" x2="297.9" y2="341.8" stroke-width="6.4"/>
<line x1="317.2" y1="341.8" x2="337.9" y2="341.8" stroke-width="6.4"/>
<line x1="357.2" y1="341.8" x2="377.7" y2="341.8" stroke-width="6.4"/>
<line x1="397.9" y1="341.8" x2="418.9" y2="341.8" stroke-width="6.4"/>
<line x1="438.2" y1="341.8" x2="451.4" y2="341.8" stroke-width="6.4"/>
</g>
<g stroke="#000" fill="none" stroke-linecap="butt">
<line x1="971.9" y1="1100" x2="1231.5" y2="229.5" stroke-width="3.5" shape-rendering="crispEdges"/>
<polygon points="1238.2,197.8 1242.1,197.8 1247.0,228.2 1247.0,233.8 1244.2,234.8 1217.3,226.7 1214.9,222.9" fill="#000" stroke="none" shape-rendering="crispEdges"/>
<line x1="343.55" y1="760" x2="341.45" y2="1100" stroke-width="3.0"/>
<polyline points="329.9,1073.4 341.1,1105.4 352.9,1074.8" stroke-width="3.9" stroke-linejoin="bevel" shape-rendering="crispEdges"/>
<line x1="380.55" y1="780" x2="380.55" y2="1004" stroke-width="2.9"/>
<polyline points="368.9,977.5 380.5,1009.4 391.9,977.9" stroke-width="3.9" stroke-linejoin="bevel" shape-rendering="crispEdges"/>
</g>
<ellipse cx="347.4" cy="754.9" rx="13.6" ry="15" fill="#000" shape-rendering="crispEdges"/>
<ellipse cx="381.5" cy="774.5" rx="13.6" ry="15" fill="#000" shape-rendering="crispEdges"/>
<ellipse cx="415.5" cy="804.4" rx="13.6" ry="15" fill="#000" shape-rendering="crispEdges"/>
<g>
<text transform="translate(350.25,119.70) scale(1.3478,1.0000)" font-family='"Liberation Serif", serif' font-size="46" font-style="italic" fill="#000" stroke="#000" stroke-width="0.15">φ</text>
<text transform="translate(382.43,127.40) scale(0.9571,1.0000)" font-family='"Liberation Serif", serif' font-size="38" fill="#000" stroke="#000" stroke-width="0.65">1</text>
<text transform="translate(416.07,123.03) scale(1.4625,1.0077)" font-family='"Liberation Serif", serif' font-size="50" fill="#000" stroke="#000" stroke-width="0.44">=</text>
<text transform="translate(469.99,119.70) scale(0.9568,1.0000)" font-family='"Liberation Serif", serif' font-size="53" fill="#000" stroke="#000" stroke-width="0.65">0.01</text>
<text transform="translate(560.45,119.70) scale(1.1750,1.0000)" font-family='"Liberation Serif", serif' font-size="53" fill="#000" stroke="#000" stroke-width="0.55">,</text>
<text transform="translate(594.91,119.70) scale(1.1087,1.0000)" font-family='"Liberation Serif", serif' font-size="53" font-style="italic" fill="#000" stroke="#000" stroke-width="0.50">λ</text>
<text transform="translate(633.88,123.03) scale(1.4583,1.0077)" font-family='"Liberation Serif", serif' font-size="50" fill="#000" stroke="#000" stroke-width="0.45">=</text>
<text transform="translate(689.20,119.70) scale(1.4000,1.0000)" font-family='"Liberation Serif", serif' font-size="53" fill="#000" stroke="#000" stroke-width="0.46">−</text>
<text transform="translate(726.86,119.70) scale(1.0100,1.0000)" font-family='"Liberation Serif", serif' font-size="53" fill="#000" stroke="#000" stroke-width="0.64">1</text>
<text transform="translate(754.48,119.70) scale(1.0125,1.0000)" font-family='"Liberation Serif", serif' font-size="53" fill="#000" stroke="#000" stroke-width="0.64">,</text>
<text transform="translate(785.85,119.70) scale(1.1536,1.0000)" font-family='"Liberation Serif", serif' font-size="53" font-style="italic" fill="#000" stroke="#000" stroke-width="0.48">L</text>
<text transform="translate(830.76,123.03) scale(1.4708,1.0077)" font-family='"Liberation Serif", serif' font-size="50" fill="#000" stroke="#000" stroke-width="0.44">=</text>
<text transform="translate(884.41,119.70) scale(1.1882,1.0000)" font-family='"Liberation Serif", serif' font-size="46" font-style="italic" fill="#000" stroke="#000" stroke-width="0.46">ε</text>
<text transform="translate(921.62,123.03) scale(1.4917,1.0077)" font-family='"Liberation Serif", serif' font-size="50" fill="#000" stroke="#000" stroke-width="0.44">=</text>
<text transform="translate(975.74,119.70) scale(1.0148,1.0000)" font-family='"Liberation Serif", serif' font-size="53" fill="#000" stroke="#000" stroke-width="0.64">1.0</text>
<text transform="translate(1042.40,119.70) scale(1.0000,1.0000)" font-family='"Liberation Serif", serif' font-size="53" fill="#000" stroke="#000" stroke-width="0.65">,</text>
<text transform="translate(284.40,179.90) scale(1.1710,1.0000)" font-family='"Liberation Serif", serif' font-size="53" font-style="italic" fill="#000" stroke="#000" stroke-width="0.47">B</text>
<text transform="translate(321.90,187.80) scale(1.0188,1.0000)" font-family='"Liberation Serif", serif' font-size="35" font-style="italic" fill="#000" stroke="#000" stroke-width="0.54">v</text>
<text transform="translate(354.83,184.03) scale(1.4833,1.0077)" font-family='"Liberation Serif", serif' font-size="50" fill="#000" stroke="#000" stroke-width="0.44">=</text>
<text transform="translate(411.60,179.90) scale(1.1903,1.0000)" font-family='"Liberation Serif", serif' font-size="53" font-style="italic" fill="#000" stroke="#000" stroke-width="0.46">B</text>
<text transform="translate(447.39,187.80) scale(1.0545,1.0000)" font-family='"Liberation Serif", serif' font-size="38" font-style="italic" fill="#000" stroke="#000" stroke-width="0.52">T</text>
<text transform="translate(487.18,184.03) scale(1.5125,1.0077)" font-family='"Liberation Serif", serif' font-size="50" fill="#000" stroke="#000" stroke-width="0.43">=</text>
<text transform="translate(541.92,179.90) scale(1.0419,1.0000)" font-family='"Liberation Serif", serif' font-size="53" fill="#000" stroke="#000" stroke-width="0.62">0.5</text>
<text transform="translate(610.58,179.90) scale(1.0125,1.0000)" font-family='"Liberation Serif", serif' font-size="53" fill="#000" stroke="#000" stroke-width="0.64">,</text>
<text transform="translate(640.96,179.90) scale(1.1576,1.0000)" font-family='"Liberation Serif", serif' font-size="53" font-style="italic" fill="#000" stroke="#000" stroke-width="0.48">E</text>
<text transform="translate(679.88,179.90) scale(1.0200,1.0000)" font-family='"Liberation Serif", serif' font-size="47" font-style="italic" fill="#000" stroke="#000" stroke-width="0.54">c</text>
<text transform="translate(711.66,184.03) scale(1.5708,1.0077)" font-family='"Liberation Serif", serif' font-size="50" fill="#000" stroke="#000" stroke-width="0.41">=</text>
<text transform="translate(767.15,179.90) scale(1.1273,1.0000)" font-family='"Liberation Serif", serif' font-size="53" fill="#000" stroke="#000" stroke-width="0.58">2</text>
<text transform="translate(794.90,179.90) scale(1.0000,1.0000)" font-family='"Liberation Serif", serif' font-size="53" fill="#000" stroke="#000" stroke-width="0.65">,</text>
<text transform="translate(824.70,179.90) scale(1.1957,1.0000)" font-family='"Liberation Serif", serif' font-size="46" font-style="italic" fill="#000" stroke="#000" stroke-width="0.46">σ</text>
<text transform="translate(852.50,187.80) scale(1.0000,1.0000)" font-family='"Liberation Serif", serif' font-size="38" fill="#000" stroke="#000" stroke-width="0.65">1</text>
<text transform="translate(886.72,184.03) scale(1.4917,1.0077)" font-family='"Liberation Serif", serif' font-size="50" fill="#000" stroke="#000" stroke-width="0.44">=</text>
<text transform="translate(940.93,179.90) scale(1.1696,1.0000)" font-family='"Liberation Serif", serif' font-size="46" font-style="italic" fill="#000" stroke="#000" stroke-width="0.47">σ</text>
<text transform="translate(969.39,187.80) scale(1.0063,1.0000)" font-family='"Liberation Serif", serif' font-size="38" fill="#000" stroke="#000" stroke-width="0.65">2</text>
<text transform="translate(1002.38,184.03) scale(1.5125,1.0077)" font-family='"Liberation Serif", serif' font-size="50" fill="#000" stroke="#000" stroke-width="0.43">=</text>
<text transform="translate(1055.79,179.90) scale(1.0065,1.0000)" font-family='"Liberation Serif", serif' font-size="53" fill="#000" stroke="#000" stroke-width="0.65">0.2</text>
<text transform="translate(496.61,283.60) scale(1.0856,1.0000)" font-family='"Liberation Serif", serif' font-size="57" fill="#000" stroke="#000" stroke-width="0.60">First</text>
<text transform="translate(630.91,283.60) scale(1.0470,1.0000)" font-family='"Liberation Serif", serif' font-size="57" fill="#000" stroke="#000" stroke-width="0.62">solution</text>
<text transform="translate(495.76,350.20) scale(1.0122,1.0000)" font-family='"Liberation Serif", serif' font-size="57" fill="#000" stroke="#000" stroke-width="0.64">Second</text>
<text transform="translate(683.91,350.20) scale(1.0470,1.0000)" font-family='"Liberation Serif", serif' font-size="57" fill="#000" stroke="#000" stroke-width="0.62">solution</text>
<text transform="translate(454.30,819.30) scale(1.1667,1.0000)" font-family='"Liberation Serif", serif' font-size="50" font-style="italic" fill="#000" stroke="#000" stroke-width="0.47">s</text>
<text transform="translate(478.09,826.30) scale(1.0125,1.0000)" font-family='"Liberation Serif", serif' font-size="38.5" font-style="italic" fill="#000" stroke="#000" stroke-width="0.54">c</text>
<text transform="translate(511.69,822.00) scale(1.6042,1.0846)" font-family='"Liberation Serif", serif' font-size="50" fill="#000" stroke="#000" stroke-width="0.41">=</text>
<text transform="translate(570.81,819.30) scale(0.9773,1.0000)" font-family='"Liberation Serif", serif' font-size="58" fill="#000" stroke="#000" stroke-width="0.65">1.54382</text>
<text transform="translate(373.20,1044.20) scale(1.1278,1.0000)" font-family='"Liberation Serif", serif' font-size="50" font-style="italic" fill="#000" stroke="#000" stroke-width="0.49">s</text>
<text transform="translate(396.63,1051.90) scale(1.0688,1.0000)" font-family='"Liberation Serif", serif' font-size="38.5" font-style="italic" fill="#000" stroke="#000" stroke-width="0.51">c</text>
<text transform="translate(431.24,1046.90) scale(1.5792,1.0846)" font-family='"Liberation Serif", serif' font-size="50" fill="#000" stroke="#000" stroke-width="0.41">=</text>
<text transform="translate(489.82,1044.20) scale(0.9769,1.0000)" font-family='"Liberation Serif", serif' font-size="58" fill="#000" stroke="#000" stroke-width="0.65">1.52027</text>
<text transform="translate(331.70,1158.00) scale(1.2444,1.0000)" font-family='"Liberation Serif", serif' font-size="50" font-style="italic" fill="#000" stroke="#000" stroke-width="0.44">s</text>
<text transform="translate(356.31,1165.90) scale(0.9937,1.0000)" font-family='"Liberation Serif", serif' font-size="38.5" font-style="italic" fill="#000" stroke="#000" stroke-width="0.55">c</text>
<text transform="translate(390.27,1160.70) scale(1.6125,1.0846)" font-family='"Liberation Serif", serif' font-size="50" fill="#000" stroke="#000" stroke-width="0.40">=</text>
<text transform="translate(449.36,1158.00) scale(0.9683,1.0000)" font-family='"Liberation Serif", serif' font-size="58" fill="#000" stroke="#000" stroke-width="0.65">1.49934</text>
<text transform="translate(890.47,1164.10) scale(1.3308,1.0000)" font-family='"Liberation Serif", serif' font-size="50" font-style="italic" fill="#000" stroke="#000" stroke-width="0.15">φ</text>
<text transform="translate(926.16,1171.30) scale(0.9706,1.0000)" font-family='"Liberation Serif", serif' font-size="42" fill="#000" stroke="#000" stroke-width="0.65">2</text>
<text transform="translate(963.05,1166.80) scale(1.6250,1.0846)" font-family='"Liberation Serif", serif' font-size="50" fill="#000" stroke="#000" stroke-width="0.40">=</text>
<text transform="translate(1022.23,1164.10) scale(1.0360,1.0000)" font-family='"Liberation Serif", serif' font-size="58" fill="#000" stroke="#000" stroke-width="0.63">0</text>
<text transform="translate(1053.80,1164.10) scale(0.9000,1.0000)" font-family='"Liberation Serif", serif' font-size="58" fill="#000" stroke="#000" stroke-width="0.65">,</text>
<text transform="translate(1074.89,1164.10) scale(0.9562,1.0000)" font-family='"Liberation Serif", serif' font-size="58" fill="#000" stroke="#000" stroke-width="0.65">0.01</text>
<text transform="translate(1176.47,1164.10) scale(0.9667,1.0000)" font-family='"Liberation Serif", serif' font-size="58" fill="#000" stroke="#000" stroke-width="0.65">,</text>
<text transform="translate(1198.62,1164.10) scale(0.9918,1.0000)" font-family='"Liberation Serif", serif' font-size="58" fill="#000" stroke="#000" stroke-width="0.65">0.02</text>
<text transform="translate(968.90,1369.30) scale(1.1158,1.0000)" font-family='"Liberation Serif", serif' font-size="53" font-style="italic" fill="#262626" stroke="#262626" stroke-width="0.49">s</text>
</g>
<g transform="rotate(-90)">
<text transform="translate(-732.29,85.00) scale(1.0974,1.0000)" font-family='"Liberation Serif", serif' font-size="60" font-style="italic" fill="#262626" stroke="#262626" stroke-width="0.50">C</text>
<text transform="translate(-689.20,92.50) scale(1.2188,1.0000)" font-family='"Liberation Serif", serif' font-size="41" font-style="italic" fill="#262626" stroke="#262626" stroke-width="0.45">f</text>
<text transform="translate(-663.02,85.00) scale(1.0757,1.0000)" font-family='"Liberation Serif", serif' font-size="60" font-style="italic" fill="#262626" stroke="#262626" stroke-width="0.51">R</text>
<text transform="translate(-621.47,85.00) scale(0.9714,1.0000)" font-family='"Liberation Serif", serif' font-size="51" font-style="italic" fill="#262626" stroke="#262626" stroke-width="0.55">e</text>
<text transform="translate(-594.23,93.30) scale(1.2750,1.0000)" font-family='"Liberation Serif", serif' font-size="34" font-style="italic" fill="#262626" stroke="#262626" stroke-width="0.43">x</text>
<text transform="translate(-595.48,54.80) scale(0.9250,1.0000)" font-family='"Liberation Serif", serif' font-size="34.5" fill="#262626" stroke="#262626" stroke-width="0.65">1</text>
<text transform="translate(-575.10,65.40) scale(1.6700,1.8091)" font-family='"Liberation Serif", serif' font-size="34.5" fill="#262626" stroke="#262626" stroke-width="0.36">/</text>
<text transform="translate(-556.71,54.80) scale(1.1133,1.0000)" font-family='"Liberation Serif", serif' font-size="34.5" fill="#262626" stroke="#262626" stroke-width="0.58">2</text>
</g>
</svg></body></html>
